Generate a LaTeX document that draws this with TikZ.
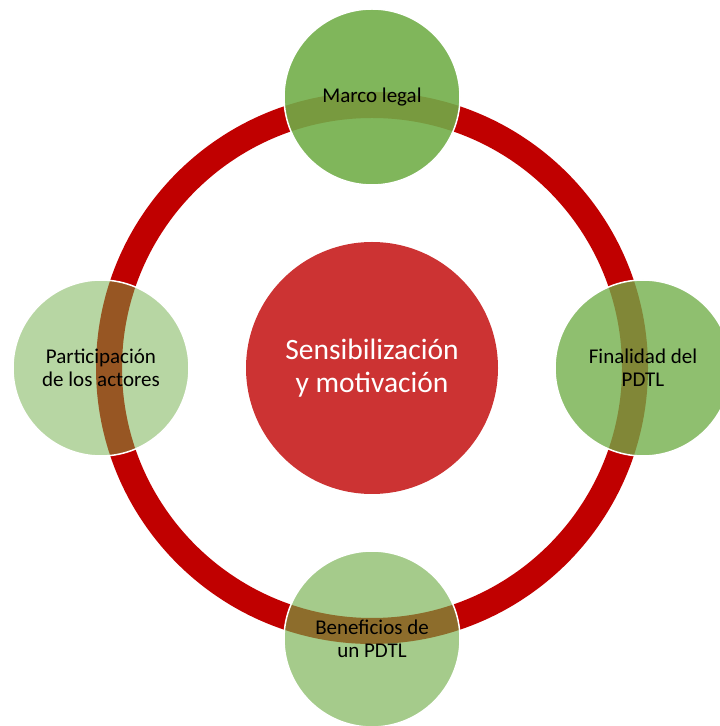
\documentclass[tikz,border=0pt]{standalone}
\usepackage{fontspec}
\setmainfont{Carlito}
\definecolor{ringred}{HTML}{C00000}
\definecolor{hubred}{HTML}{CC3333}
\definecolor{leafgreen}{HTML}{70AD47}
\begin{document}
\begin{tikzpicture}[x=1pt, y=1pt,
	leaf/.style = {circle, fill=leafgreen, fill opacity=#1, text opacity=1,
		draw=white, line width=1.5pt, minimum size=176pt, inner sep=0pt,
		align=center, text=black, font=\fontsize{21}{23}\selectfont},
	hub/.style = {circle, fill=hubred, minimum size=252pt, inner sep=0pt,
		align=center, text=white, font=\fontsize{29.5}{33}\selectfont}]
	
	\def \ring {263}   % radius of the red ring
	\def \orbit {271}  % distance of the green circles from the centre
	
	\useasboundingbox (0,0) rectangle (720,726);
	\clip (0,0) rectangle (720,726);
	
	\coordinate (c) at (372,358);
	\draw[ringred, line width=26pt] (c) circle (\ring);
	
	\node[hub] (hub) at (c) {Sensibilización\\y motivación};
	
	\foreach \a/\name/\op/\txt in {90/marco/0.89/{Marco legal},
		0/finalidad/0.78/{Finalidad del\\PDTL},
		-90/beneficios/0.63/{Beneficios de\\un PDTL},
		180/actores/0.5/{Participación\\de los actores}}
	{
		\node[leaf=\op] (\name) at ([shift={(\a:\orbit)}]c) {\txt};
	}
\end{tikzpicture}
\end{document}
